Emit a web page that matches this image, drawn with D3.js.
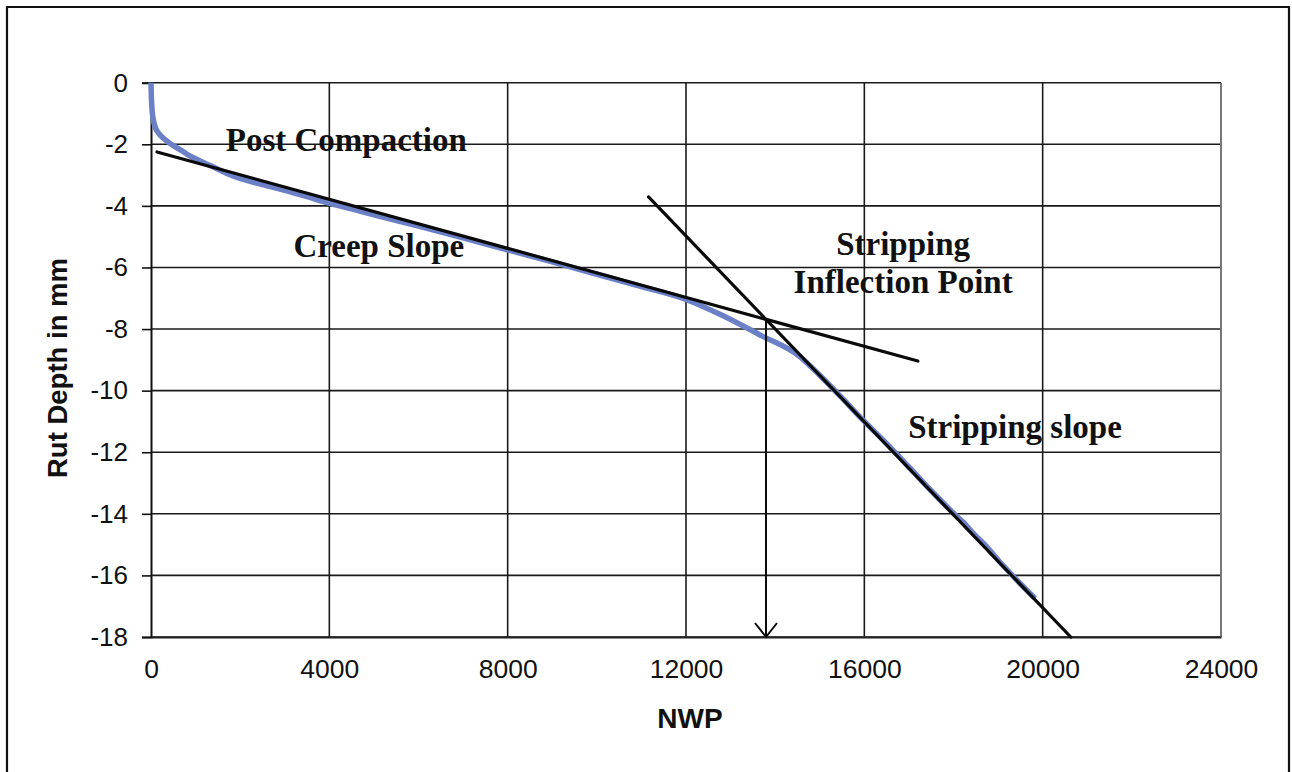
<!DOCTYPE html>
<html>
<head>
<meta charset="utf-8">
<script src="https://cdn.jsdelivr.net/npm/d3@7"></script>
<style>
  html, body { margin: 0; padding: 0; background: #fff; }
  svg { display: block; }
</style>
</head>
<body>
<svg id="chart" width="1292" height="772"></svg>
<script>
// Measured rut depth (mm) against number of wheel passes
const nwp = [0, 8, 20, 40, 70, 110, 170, 260, 380, 520, 680, 850, 1100, 1400, 1840, 2400, 2960, 3500, 3970, 4500,
  5000, 6000, 7000, 8000, 9000, 10000, 11000, 12000, 12760, 13700, 14560, 15000, 15460, 16000,
  16500, 17000, 17500, 18000, 18200, 18500, 18700, 19000, 19500, 19830];
const rutDepth = [0, -0.45, -0.8, -1.1, -1.32, -1.5, -1.64, -1.78, -1.92, -2.06, -2.2, -2.36, -2.54, -2.74, -3.03, -3.27, -3.48, -3.7, -3.9, -4.1,
  -4.29, -4.66, -5.04, -5.43, -5.82, -6.22, -6.62, -7.04, -7.52, -8.22, -8.9, -9.5, -10.18, -11.0,
  -11.72, -12.48, -13.25, -13.98, -14.25, -14.72, -15.0, -15.5, -16.27, -16.75];

// Fitted tangent lines: creep (secondary) phase and stripping (tertiary) phase
const creepLineX = [135, 17200];
const creepLineY = [-2.25, -9.04];
const stripLineX = [11160, 20630];
const stripLineY = [-3.71, -18];

// Axis ticks
const xTicks = [0, 4000, 8000, 12000, 16000, 20000, 24000];
const yTicks = [0, -2, -4, -6, -8, -10, -12, -14, -16, -18];

// Annotations
const notes = [
  { lines: ["Post Compaction"], x: 4380, y: -2.22 },
  { lines: ["Creep Slope"], x: 5110, y: -5.66 },
  { lines: ["Stripping", "Inflection Point"], x: 16870, y: -5.58 },
  { lines: ["Stripping slope"], x: 19380, y: -11.53 }
];

const svg = d3.select("#chart");
const W = 1292, H = 772;
const plot = { left: 151, right: 1221, top: 82.7, bottom: 637 };

const x = d3.scaleLinear().domain([0, 24000]).range([plot.left, plot.right]);
const y = d3.scaleLinear().domain([-18, 0]).range([plot.bottom, plot.top]);

svg.append("rect").attr("width", W).attr("height", H).attr("fill", "#fff");

// outer frame
svg.append("path")
  .attr("d", `M7,${H + 5} V7 H1289 V${H + 5}`)
  .attr("fill", "none").attr("stroke", "#111").attr("stroke-width", 2.2);

// gridlines
const grid = svg.append("g");
grid.selectAll("line.h").data(yTicks).join("line")
  .attr("x1", plot.left).attr("x2", plot.right)
  .attr("y1", d => y(d)).attr("y2", d => y(d))
  .attr("stroke", "#1a1a1a").attr("stroke-width", 1.6);
grid.selectAll("line.v").data(xTicks.slice(1, -1)).join("line")
  .attr("y1", plot.top).attr("y2", plot.bottom)
  .attr("x1", d => x(d)).attr("x2", d => x(d))
  .attr("stroke", "#1a1a1a").attr("stroke-width", 1.6);
// right border of plot area
svg.append("line")
  .attr("x1", x(24000)).attr("x2", x(24000)).attr("y1", plot.top).attr("y2", plot.bottom)
  .attr("stroke", "#777").attr("stroke-width", 2);

// y axis with outward ticks
const yAxis = d3.axisLeft(y).tickValues(yTicks).tickSize(9).tickPadding(14).tickFormat(d3.format("d"));
const gy = svg.append("g").attr("transform", `translate(${plot.left},0)`).call(yAxis);
gy.select(".domain").attr("stroke", "#111").attr("stroke-width", 2);
gy.selectAll(".tick line").attr("stroke", "#111").attr("stroke-width", 1.6);
gy.selectAll(".tick text")
  .attr("font-family", "Liberation Sans, Arial, sans-serif").attr("font-size", 26).attr("fill", "#111")
  .text(d => d === 0 ? "0" : "-" + Math.abs(d));

// x axis
const xAxis = d3.axisBottom(x).tickValues(xTicks).tickSize(0).tickPadding(22).tickFormat(d3.format("d"));
const gx = svg.append("g").attr("transform", `translate(0,${plot.bottom})`).call(xAxis);
gx.select(".domain").attr("stroke", "#222").attr("stroke-width", 2);
gx.selectAll(".tick text")
  .attr("font-family", "Liberation Sans, Arial, sans-serif").attr("font-size", 26.5).attr("fill", "#111");

// axis titles
svg.append("text")
  .attr("x", 690).attr("y", 728).attr("text-anchor", "middle")
  .attr("font-family", "Liberation Sans, Arial, sans-serif").attr("font-weight", "bold")
  .attr("font-size", 28).attr("fill", "#111").text("NWP");
svg.append("text")
  .attr("transform", "translate(67,368) rotate(-90)").attr("text-anchor", "middle")
  .attr("font-family", "Liberation Sans, Arial, sans-serif").attr("font-weight", "bold")
  .attr("font-size", 27.5).attr("fill", "#111").text("Rut Depth in mm");

// measured curve
const line = d3.line().x(d => x(d[0])).y(d => y(d[1])).curve(d3.curveMonotoneX);
const measured = nwp.map((v, i) => [v, rutDepth[i]]);
svg.append("path").datum(measured)
  .attr("d", line).attr("fill", "none")
  .attr("stroke", "#6b80c6").attr("stroke-width", 5.5).attr("stroke-linejoin", "round");

// tangent lines
const straight = d3.line().x(d => x(d[0])).y(d => y(d[1]));
const creep = creepLineX.map((v, i) => [v, creepLineY[i]]);
const strip = stripLineX.map((v, i) => [v, stripLineY[i]]);
[creep, strip].forEach(seg => {
  svg.append("path").datum(seg).attr("d", straight)
    .attr("fill", "none").attr("stroke", "#0a0a0a").attr("stroke-width", 3.2).attr("stroke-linecap", "round");
});

// inflection point = intersection of the two tangents
const m1 = (creepLineY[1] - creepLineY[0]) / (creepLineX[1] - creepLineX[0]);
const m2 = (stripLineY[1] - stripLineY[0]) / (stripLineX[1] - stripLineX[0]);
const b1 = creepLineY[0] - m1 * creepLineX[0];
const b2 = stripLineY[0] - m2 * stripLineX[0];
const ix = (b2 - b1) / (m1 - m2);
const iy = m1 * ix + b1;

// arrow from the inflection point down to the NWP axis
const ax = x(ix);
svg.append("line")
  .attr("x1", ax).attr("x2", ax).attr("y1", y(iy)).attr("y2", y(-18))
  .attr("stroke", "#0a0a0a").attr("stroke-width", 2);
svg.append("path")
  .attr("d", `M${ax - 11},${y(-18) - 14} L${ax},${y(-18)} L${ax + 11},${y(-18) - 14}`)
  .attr("fill", "none").attr("stroke", "#0a0a0a").attr("stroke-width", 2);

// annotations
notes.forEach(n => {
  const t = svg.append("text")
    .attr("x", x(n.x)).attr("y", y(n.y)).attr("text-anchor", "middle")
    .attr("font-family", "Liberation Serif, 'Times New Roman', serif").attr("font-weight", "bold")
    .attr("font-size", 33).attr("fill", "#111");
  n.lines.forEach((s, i) => {
    t.append("tspan").attr("x", x(n.x)).attr("dy", i === 0 ? 0 : 38).text(s);
  });
});
</script>
</body>
</html>
